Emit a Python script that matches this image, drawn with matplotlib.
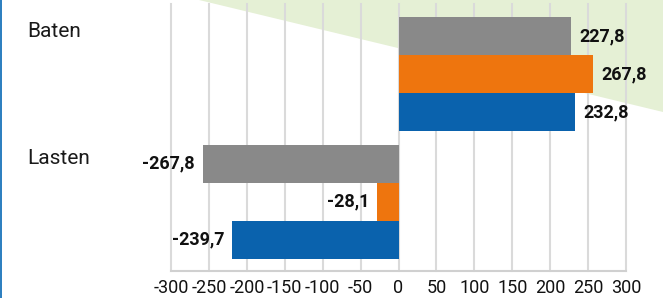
import matplotlib.pyplot as plt
import matplotlib.transforms as mtransforms
from matplotlib.patches import Polygon, Rectangle
import numpy as np

# Data
categories = ['Baten', 'Lasten']
series_colors = ['#898989', '#ee750e', '#0a62ad']
# bar lengths as drawn
bar_values = [
    [227.8, 257.0, 232.8],     # Baten
    [-258.0, -28.1, -219.0],   # Lasten
]
# printed labels
bar_labels = [
    ['227,8', '267,8', '232,8'],
    ['-267,8', '-28,1', '-239,7'],
]
ticks = list(range(-300, 301, 50))

plt.rcParams['font.family'] = ['Roboto', 'DejaVu Sans']

fig = plt.figure(figsize=(6.63, 2.98), dpi=100)
fig.patch.set_facecolor('white')

# light green wedge in the top right corner
fig.patches.append(Polygon([(199 / 663, 1.0), (1.0, 1.0), (1.0, 1 - 112 / 298)],
                           closed=True, transform=fig.transFigure,
                           facecolor='#e5f0d5', edgecolor='none', zorder=-2))
# thin blue border on the left
fig.patches.append(Rectangle((0, 0), 2 / 663, 1, transform=fig.transFigure,
                             facecolor='#2f80c0', edgecolor='none', zorder=-1))

ax = fig.add_axes([171 / 663, 1 - 271 / 298, 455 / 663, 267 / 298])
ax.set_zorder(1)
ax.patch.set_alpha(0)

bar_h = 0.298
offsets = [-bar_h, 0, bar_h]

for ci, cat in enumerate(categories):
    for si in range(3):
        y = ci + offsets[si]
        v = bar_values[ci][si]
        ax.barh(y, v, height=bar_h, color=series_colors[si], zorder=3)
        if v >= 0:
            ax.annotate(bar_labels[ci][si], (v, y), xytext=(8, 0),
                        textcoords='offset pixels', ha='left', va='center',
                        fontsize=13, fontweight='bold', color='#111111')
        else:
            ax.annotate(bar_labels[ci][si], (v, y), xytext=(-8, 0),
                        textcoords='offset pixels', ha='right', va='center',
                        fontsize=13, fontweight='bold', color='#111111')

# category labels at the far left
trans = mtransforms.blended_transform_factory(fig.transFigure, ax.transData)
for ci, cat in enumerate(categories):
    ax.text(27 / 663, ci - 0.34, cat, transform=trans, ha='left', va='center',
            fontsize=15, color='#1a1a1a', clip_on=False)

ax.set_xlim(-300, 300)
ax.set_ylim(1.545, -0.553)
ax.set_xticks(ticks)
ax.set_xticklabels([str(t) for t in ticks])
ax.set_yticks([])
for t in ticks:
    ax.axvline(t, color='#dadada', linewidth=1.5, zorder=1, clip_on=False)

for side in ['left', 'right', 'top']:
    ax.spines[side].set_visible(False)
ax.spines['bottom'].set_color('#d0d0d0')
ax.spines['bottom'].set_linewidth(1.5)
ax.tick_params(axis='x', length=0, pad=6, labelsize=13, colors='#111111')

fig.savefig('out.png', dpi=100)
